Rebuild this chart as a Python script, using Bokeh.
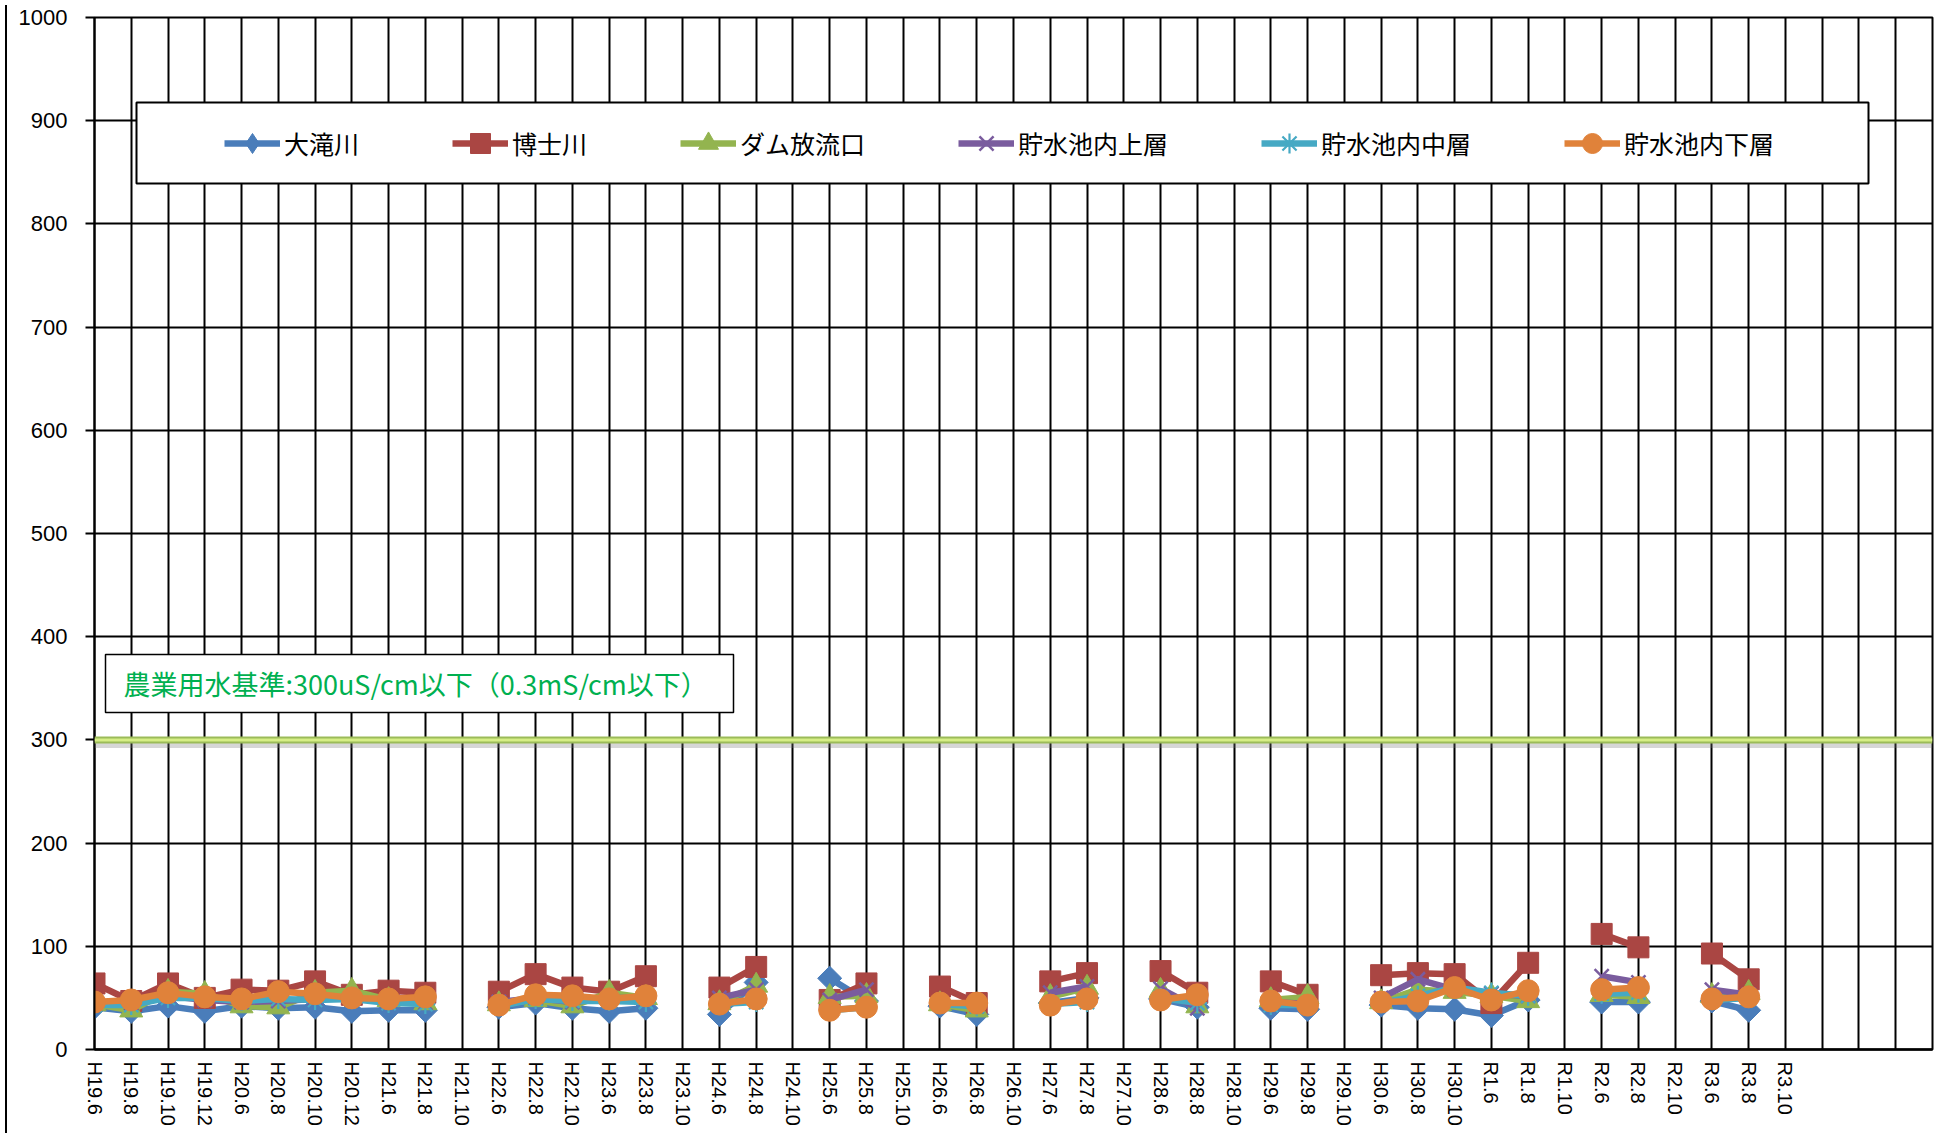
import numpy as np
from bokeh.plotting import figure
from bokeh.models import (Range1d, FixedTicker, Span, Legend, LegendItem,
                          BoxAnnotation, Label, Div)
from bokeh.layouts import row
from bokeh.embed import file_html
from bokeh.resources import INLINE

# ---------------- data ----------------
CATEGORIES = ["H19.6", "H19.8", "H19.10", "H19.12", "H20.6", "H20.8", "H20.10", "H20.12",
              "H21.6", "H21.8", "H21.10", "H22.6", "H22.8", "H22.10", "H23.6", "H23.8",
              "H23.10", "H24.6", "H24.8", "H24.10", "H25.6", "H25.8", "H25.10", "H26.6",
              "H26.8", "H26.10", "H27.6", "H27.8", "H27.10", "H28.6", "H28.8", "H28.10",
              "H29.6", "H29.8", "H29.10", "H30.6", "H30.8", "H30.10", "R1.6", "R1.8",
              "R1.10", "R2.6", "R2.8", "R2.10", "R3.6", "R3.8", "R3.10"]
EMPTY_SLOTS = ["", "", "", ""]  # unlabeled categories at the right end of the axis

N = None
otaki = [41, 37, 42, 37, 42, 40, 41, 37, 38, 38, N, 41, 45, 40, 37, 40, N, 34, 65, N,
         69, 47, N, 42, 34, N, 45, 50, N, 49, 41, N, 40, 39, N, 43, 40, 39, 33, 48,
         N, 46, 46, N, 47, 38, N]
hakase = [64, 47, 64, 50, 58, 57, 66, 53, 57, 55, N, 56, 73, 60, 56, 71, N, 60, 80, N,
          48, 64, N, 61, 45, N, 66, 74, N, 76, 55, N, 66, 53, N, 72, 74, 73, 45, 84,
          N, 112, 99, N, 93, 68, N]
dam_out = [44, 38, 56, 54, 42, 41, 55, 57, 48, 45, N, 44, 48, 42, 55, 50, N, 45, 62, N,
           51, 52, N, 44, 38, N, 51, 60, N, 57, 42, N, 48, 51, N, 46, 58, 56, 52, 47,
           N, 53, 51, N, 52, 55, N]
upper = [44, 45, 52, 48, 46, 47, 49, 50, 46, 45, N, 46, 50, 46, 50, 50, N, 50, 58, N,
         48, 58, N, 46, 42, N, 55, 61, N, 59, 40, N, 46, 44, N, 50, 68, 58, 54, 52,
         N, 71, 65, N, 58, 53, N]
middle = [43, 43, 50, 50, 47, 49, 48, 49, 45, 44, N, 42, 49, 47, 47, 46, N, 44, 46, N,
          38, 41, N, 44, 42, N, 44, 46, N, 50, 45, N, 43, 43, N, 45, 52, 60, 55, 52,
          N, 54, 55, N, 48, 50, N]
lower = [46, 48, 55, 51, 49, 56, 54, 50, 49, 51, N, 43, 53, 52, 49, 52, N, 44, 49, N,
         38, 41, N, 45, 45, N, 43, 49, N, 48, 53, N, 47, 43, N, 46, 47, 60, 48, 57,
         N, 58, 60, N, 49, 51, N]

SERIES_NAMES = ["大滝川", "博士川", "ダム放流口", "貯水池内上層", "貯水池内中層", "貯水池内下層"]
SERIES_VALUES = [otaki, hakase, dam_out, upper, middle, lower]

Y_TICKS = [0, 100, 200, 300, 400, 500, 600, 700, 800, 900, 1000]
STANDARD = 300
STANDARD_TEXT = "農業用水基準:300uS/cm以下（0.3mS/cm以下）"

# ---------------- styles ----------------
COLORS = ["#4A7DBA", "#AA4643", "#93B44F", "#7A5C9E", "#46A9C4", "#E0823A"]
# (plot marker, legend marker)
MARKERS = [
    (dict(marker="square", size=17, angle=np.pi / 4), "diamond"),
    (dict(marker="square", size=21), None),
    (dict(marker="triangle", size=23), None),
    (dict(marker="x", size=20, line_width=2.5), None),
    (dict(marker="asterisk", size=20, line_width=2.2), None),
    (dict(marker="circle", size=22), None),
]
AXIS_FONT = "Liberation Sans"
JP_FONT = "Noto Sans CJK JP"

all_labels = CATEGORIES + EMPTY_SLOTS
n_slots = len(all_labels)
positions = list(range(n_slots))

p = figure(width=1924, height=1128, output_backend="svg", toolbar_location=None,
           x_range=Range1d(0, n_slots - 1), y_range=Range1d(Y_TICKS[0], Y_TICKS[-1]),
           min_border_left=82, min_border_right=4, min_border_top=17, min_border_bottom=79)
p.background_fill_color = "white"
p.border_fill_color = "white"
p.outline_line_color = "black"
p.outline_line_width = 2

# axes
p.xaxis.ticker = FixedTicker(ticks=positions)
p.xaxis.major_label_overrides = {i: lab for i, lab in enumerate(all_labels)}
p.xaxis.major_label_orientation = "vertical"
p.xaxis.major_label_text_font = AXIS_FONT
p.xaxis.major_label_text_font_size = "20px"
p.xaxis.major_label_text_color = "black"
p.xaxis.major_label_standoff = 12
p.xaxis.major_tick_out = 0
p.xaxis.major_tick_in = 0
p.xaxis.minor_tick_out = 0
p.xaxis.minor_tick_in = 0
p.xaxis.axis_line_width = 2.5
p.xaxis.axis_line_color = "black"

p.yaxis.ticker = FixedTicker(ticks=Y_TICKS)
p.yaxis.major_label_text_font = AXIS_FONT
p.yaxis.major_label_text_font_size = "22px"
p.yaxis.major_label_text_color = "black"
p.yaxis.major_label_standoff = 18
p.yaxis.major_tick_out = 9
p.yaxis.major_tick_in = 0
p.yaxis.minor_tick_out = 0
p.yaxis.minor_tick_in = 0
p.yaxis.axis_line_width = 2
p.yaxis.axis_line_color = "black"
p.yaxis.major_tick_line_width = 2

p.xgrid.ticker = FixedTicker(ticks=positions)
p.xgrid.grid_line_color = "black"
p.xgrid.grid_line_width = 2
p.ygrid.ticker = FixedTicker(ticks=Y_TICKS)
p.ygrid.grid_line_color = "black"
p.ygrid.grid_line_width = 2

# standard line (300) with a soft shadow
p.add_layout(Span(location=STANDARD - 5, dimension="width", line_color="#777777",
                  line_alpha=0.3, line_width=6))
p.add_layout(Span(location=STANDARD, dimension="width", line_color="#9BBB59", line_width=7))
p.add_layout(Span(location=STANDARD, dimension="width", line_color="#D6EE86", line_width=3))

# series
legend_items = []
for name, vals, color, (mk, legend_marker) in zip(SERIES_NAMES, SERIES_VALUES, COLORS, MARKERS):
    y = np.array([np.nan if v is None else v for v in vals], dtype=float)
    x = np.array(positions[:len(vals)], dtype=float)
    ln = p.line(x, y, line_color=color, line_width=6.5, line_join="round")
    kw = dict(mk)
    marker = kw.pop("marker")
    lw = kw.pop("line_width", 1)
    sc = p.scatter(x, y, marker=marker, fill_color=color, line_color=color,
                   line_width=lw, **kw)
    if legend_marker is not None:
        # key-only glyph: same positions, no values -> nothing drawn in the plot
        lg = p.scatter(x, np.full_like(y, np.nan), marker=legend_marker,
                       fill_color=color, line_color=color)
        legend_items.append(LegendItem(label=name, renderers=[ln, lg]))
    else:
        legend_items.append(LegendItem(label=name, renderers=[ln, sc]))

# legend box
p.add_layout(BoxAnnotation(left=42, right=1774, top=947, bottom=866,
                           left_units="screen", right_units="screen",
                           top_units="screen", bottom_units="screen",
                           fill_color="white", fill_alpha=1.0,
                           line_color="black", line_width=2, line_alpha=1.0))
legend = Legend(items=legend_items, orientation="horizontal", location=(130, 881),
                label_text_font=JP_FONT, label_text_font_size="25px",
                label_text_color="black", glyph_width=56, glyph_height=50,
                label_height=50, label_standoff=4, spacing=93, padding=0, margin=0,
                border_line_alpha=0, background_fill_alpha=0)
p.add_layout(legend, "center")

# standard text box
p.add_layout(BoxAnnotation(left=11, right=639, top=395, bottom=337,
                           left_units="screen", right_units="screen",
                           top_units="screen", bottom_units="screen",
                           fill_color="white", fill_alpha=1.0,
                           line_color="black", line_width=1.5, line_alpha=1.0))
p.add_layout(Label(x=29, y=366, x_units="screen", y_units="screen", text=STANDARD_TEXT,
                   text_font=JP_FONT, text_font_size="27px", text_color="#00B050",
                   text_baseline="middle", text_align="left"))

left_border = Div(text="", width=2, height=1128, styles={"background-color": "#000000"})
layout = row(left_border, p)

open("out.html", "w").write(file_html(layout, INLINE))
